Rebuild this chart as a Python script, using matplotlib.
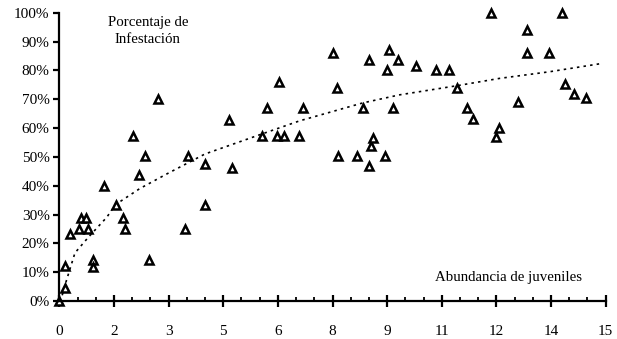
import matplotlib.pyplot as plt
from matplotlib.ticker import MultipleLocator

# juvenile abundance vs infestation (%)
abundancia = [0, 0.16, 0.16, 0.29, 0.54, 0.6, 0.73, 0.78, 0.93, 0.93,
              1.23, 1.56, 1.74, 1.8, 2.03, 2.18, 2.35, 2.46, 2.71, 3.45,
              3.53, 3.99, 4.0, 4.65, 4.74, 5.56, 5.7, 5.97, 6.02, 6.16,
              6.57, 6.68, 7.51, 7.61, 7.64, 8.16, 8.33, 8.49, 8.49, 8.55,
              8.6, 8.93, 8.99, 9.04, 9.15, 9.31, 9.78, 10.33, 10.71, 10.93,
              11.18, 11.37, 11.86, 12.0, 12.08, 12.6, 12.85, 12.85, 13.43, 13.81,
              13.87, 14.14, 14.47]
infestacion = [0, 4.5, 12.2, 23.3, 25, 28.8, 28.8, 25, 14.2, 11.8,
               40, 33.3, 28.8, 25, 57.3, 43.8, 50.3, 14.2, 70, 25,
               50.3, 47.6, 33.3, 62.8, 46.2, 57.3, 67, 57.3, 76, 57.3,
               57.3, 67, 86.1, 74, 50.3, 50.3, 67, 83.7, 46.9, 53.8,
               56.6, 50.3, 80.2, 87.2, 67, 83.7, 81.6, 80.2, 80.2, 74,
               67, 63.2, 100, 57, 60, 69.1, 94.1, 86.1, 86.1, 100,
               75.3, 71.9, 70.5]

# trend line
trend_x = [0.08, 0.2, 0.43, 0.79, 1.3, 1.55, 2.21, 2.94, 4.0, 5.69,
           6.6, 8.33, 9.34, 10.93, 12.08, 13.45, 14.9]
trend_y = [2, 7.3, 16.7, 22, 29, 33.5, 39, 44, 51, 58.5,
           62.5, 68.7, 71.5, 74.7, 77.2, 79.5, 82.4]

x_ticks = [0, 1.5, 3, 4.5, 6, 7.5, 9, 10.5, 12, 13.5, 15]
x_labels = ["0", "2", "3", "5", "6", "8", "9", "11", "12", "14", "15"]
y_ticks = list(range(0, 101, 10))

plt.rcParams['font.family'] = ['Liberation Serif', 'DejaVu Serif']

fig = plt.figure(figsize=(6.17, 3.39), dpi=100)
ax = fig.add_axes([0.0961, 0.112, 0.8856, 0.8506])

ax.plot(trend_x, trend_y, linestyle=(0, (1.5, 2.5)), color='black', linewidth=1.2)
ax.plot(abundancia, infestacion, linestyle='none', marker='^', markersize=6.3,
        markerfacecolor='white', markeredgecolor='black', markeredgewidth=1.8,
        clip_on=False)

ax.set_xlim(0, 15)
ax.set_ylim(0, 100)
ax.spines['top'].set_visible(False)
ax.spines['right'].set_visible(False)
ax.spines['left'].set_linewidth(1.6)
ax.spines['bottom'].set_linewidth(1.6)

ax.set_xticks(x_ticks)
ax.set_xticklabels(x_labels)
ax.xaxis.set_minor_locator(MultipleLocator(0.5))
ax.set_yticks(y_ticks)
ax.set_yticklabels([f"{v}%" for v in y_ticks])

ax.tick_params(axis='x', which='major', direction='inout', length=8, width=1.6,
               pad=13, labelsize=11)
ax.tick_params(axis='x', which='minor', direction='in', length=3, width=1.3)
ax.tick_params(axis='y', which='major', direction='out', length=4, width=1.6,
               pad=3, labelsize=11)

ax.text(2.43, 93.8, "Porcentaje de\nInfestación", ha='center', va='center',
        fontsize=10.7, linespacing=1.4)
ax.text(12.33, 8, "Abundancia de juveniles", ha='center', va='center', fontsize=10.7)

plt.savefig("out.png", dpi=100)
